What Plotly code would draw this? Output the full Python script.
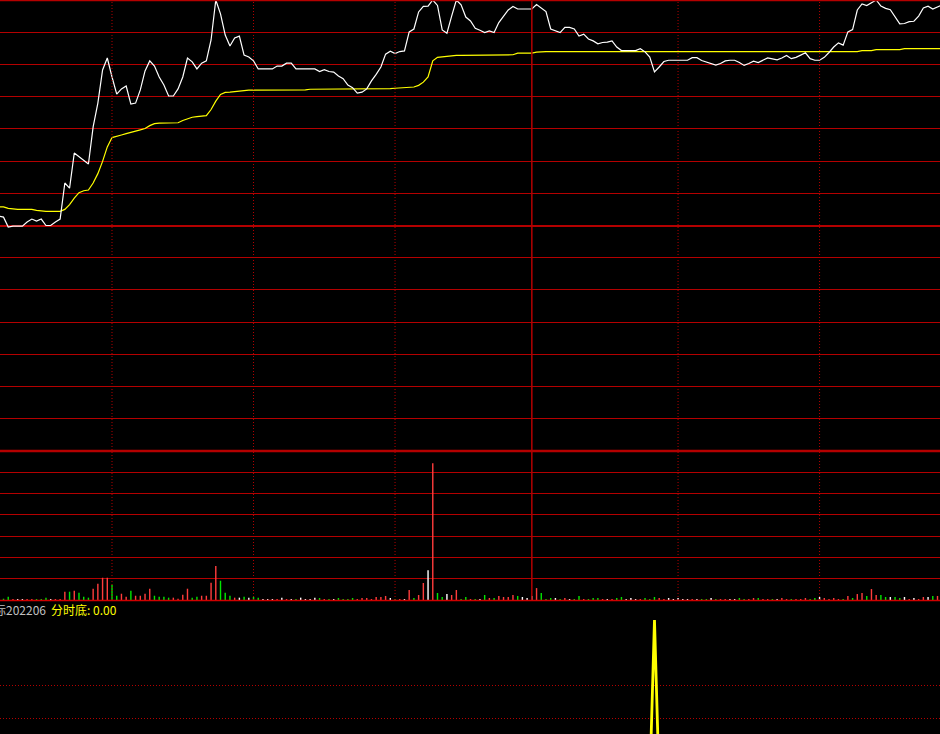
import plotly.graph_objects as go

# ---------------- data ----------------
# minute index of the trading day (0 = open); visible window is a crop
minutes = list(range(6, 207))

price_pct = [
    0.29, 0.26, -0.05, -0.02, -0.02, -0.02, 0.11, 0.20, 0.14, 0.20,      # 6-15
    0.00, 0.00, 0.11, 0.20, 1.32, 1.16, 2.25, 2.13, 2.00, 1.91,           # 16-25
    3.06, 3.80, 4.83, 5.20, 4.61, 4.08, 4.24, 4.33, 3.77, 3.80,           # 26-35
    4.21, 4.80, 5.11, 4.95, 4.61, 4.36, 4.02, 4.02, 4.24, 4.61,           # 36-45
    5.20, 5.08, 4.86, 5.04, 5.11, 5.76, 7.00, 6.57, 5.91, 5.57,           # 46-55
    5.82, 5.88, 5.29, 5.23, 5.11, 4.86, 4.86, 4.86, 4.86, 4.95,           # 56-65
    4.95, 5.04, 5.04, 4.86, 4.86, 4.86, 4.86, 4.86, 4.78, 4.84,           # 66-75
    4.78, 4.76, 4.64, 4.56, 4.36, 4.28, 4.11, 4.14, 4.24, 4.49,           # 76-85
    4.69, 4.92, 5.32, 5.41, 5.34, 5.40, 5.42, 6.01, 6.10, 6.63,           # 86-95
    6.80, 6.81, 7.00, 6.83, 6.07, 5.97, 6.50, 7.00, 6.85, 6.47,           # 96-105
    6.35, 6.12, 6.06, 5.99, 6.04, 5.99, 6.30, 6.49, 6.69, 6.80,           # 106-115
    6.72, 6.72, 6.72, 6.72, 6.86, 6.75, 6.64, 6.10, 6.05, 5.99,           # 116-125
    6.15, 6.15, 6.10, 5.88, 5.94, 5.79, 5.73, 5.64, 5.68, 5.69,           # 126-135
    5.73, 5.54, 5.43, 5.43, 5.43, 5.43, 5.49, 5.39, 5.23, 4.77,           # 136-145
    4.92, 5.09, 5.13, 5.13, 5.13, 5.13, 5.13, 5.21, 5.21, 5.12,           # 146-155
    5.08, 5.04, 4.98, 5.03, 5.11, 5.13, 5.13, 5.06, 4.97, 5.03,           # 156-165
    5.10, 5.06, 5.13, 5.20, 5.17, 5.14, 5.20, 5.28, 5.18, 5.22,           # 166-175
    5.29, 5.36, 5.18, 5.13, 5.13, 5.22, 5.37, 5.54, 5.67, 5.60,           # 176-185
    6.01, 6.08, 6.69, 6.88, 6.83, 6.91, 7.00, 6.81, 6.74, 6.70,           # 186-195
    6.47, 6.26, 6.27, 6.33, 6.34, 6.50, 6.75, 6.81, 6.72, 6.78,           # 196-205
    6.85,                                                                 # 206
]

avg_pct = [
    0.58, 0.58, 0.53, 0.51, 0.50, 0.50, 0.50, 0.50, 0.47, 0.45,           # 6-15
    0.44, 0.44, 0.44, 0.44, 0.50, 0.65, 0.85, 1.02, 1.08, 1.10,           # 16-25
    1.32, 1.61, 1.99, 2.44, 2.73, 2.78, 2.81, 2.85, 2.90, 2.93,           # 26-35
    2.97, 3.01, 3.10, 3.16, 3.18, 3.18, 3.19, 3.19, 3.19, 3.26,           # 36-45
    3.32, 3.36, 3.38, 3.40, 3.41, 3.60, 3.86, 4.07, 4.13, 4.14,           # 46-55
    4.16, 4.18, 4.19, 4.20, 4.20, 4.20, 4.20, 4.20, 4.20, 4.20,           # 56-65
    4.20, 4.20, 4.20, 4.20, 4.20, 4.21, 4.23, 4.23, 4.23, 4.23,           # 66-75
    4.23, 4.23, 4.23, 4.23, 4.24, 4.24, 4.24, 4.24, 4.24, 4.24,           # 76-85
    4.24, 4.24, 4.24, 4.25, 4.26, 4.27, 4.28, 4.29, 4.30, 4.35,           # 86-95
    4.45, 4.61, 5.11, 5.22, 5.24, 5.26, 5.27, 5.28, 5.28, 5.28,           # 96-105
    5.28, 5.28, 5.28, 5.28, 5.30, 5.30, 5.30, 5.30, 5.30, 5.30,           # 106-115
    5.35, 5.35, 5.35, 5.35, 5.38, 5.40, 5.40, 5.40, 5.40, 5.40,           # 116-125
    5.40, 5.40, 5.40, 5.40, 5.40, 5.40, 5.40, 5.40, 5.40, 5.40,           # 126-135
    5.40, 5.40, 5.40, 5.40, 5.40, 5.40, 5.40, 5.40, 5.40, 5.40,           # 136-145
    5.40, 5.40, 5.40, 5.40, 5.40, 5.40, 5.40, 5.40, 5.40, 5.40,           # 146-155
    5.40, 5.40, 5.40, 5.40, 5.40, 5.40, 5.40, 5.40, 5.40, 5.40,           # 156-165
    5.40, 5.40, 5.40, 5.40, 5.40, 5.40, 5.40, 5.40, 5.40, 5.40,           # 166-175
    5.40, 5.40, 5.40, 5.40, 5.40, 5.40, 5.40, 5.40, 5.40, 5.40,           # 176-185
    5.40, 5.40, 5.40, 5.43, 5.43, 5.43, 5.46, 5.46, 5.46, 5.46,           # 186-195
    5.46, 5.46, 5.49, 5.49, 5.49, 5.49, 5.49, 5.49, 5.49, 5.49,           # 196-205
    5.49,                                                                 # 206
]

vol_minutes = list(range(7, 206))
volumes = [
    60, 155, 47, 47, 47, 47, 47, 47, 47, 110,            # 7-16
    47, 47, 47, 390, 390, 435, 340, 155, 110, 530,       # 17-26
    760, 1045, 1045, 715, 200, 295, 155, 435, 200, 200,  # 27-36
    295, 530, 200, 155, 155, 110, 110, 60, 250, 530,     # 37-46
    110, 155, 200, 200, 810, 1600, 905, 340, 200, 110,   # 47-56
    110, 155, 110, 155, 110, 47, 47, 47, 47, 110,        # 57-66
    47, 47, 47, 110, 47, 47, 110, 95, 47, 47,            # 67-76
    47, 95, 47, 47, 95, 47, 95, 95, 47, 140,             # 77-86
    140, 190, 95, 47, 47, 47, 470, 95, 235, 800,         # 87-96
    1400, 6420, 330, 140, 280, 235, 470, 47, 140, 47,    # 97-106
    47, 47, 235, 95, 95, 190, 140, 140, 235, 190,        # 107-116
    140, 95, 190, 560, 330, 47, 95, 95, 47, 95,          # 117-126
    47, 47, 190, 47, 47, 95, 95, 47, 47, 47,             # 127-136
    95, 140, 47, 95, 47, 47, 95, 47, 140, 95,            # 137-146
    47, 95, 47, 95, 47, 47, 47, 47, 47, 47,              # 147-156
    95, 47, 47, 47, 47, 47, 95, 47, 47, 95,              # 157-166
    95, 47, 47, 47, 47, 95, 47, 47, 47, 47,              # 167-176
    95, 47, 95, 140, 95, 47, 95, 47, 47, 190,            # 177-186
    95, 280, 330, 190, 515, 235, 235, 140, 140, 140,     # 187-196
    95, 140, 47, 95, 47, 140, 140, 190, 190,             # 197-205
]
# r = up (red), g = down (green), w = unchanged (white)
vol_dir = list(
    "ggrwwrrggg"  # 7-16
    "wrrrgrgggr"  # 17-26
    "rrrggrrgrr"  # 27-36
    "rrggggrrrr"  # 37-46
    "ggrrrrgggr"  # 47-56
    "wgwggwwwrw"  # 57-66
    "rwgwwwwgrg"  # 67-76
    "wggggrrrrr"  # 77-86
    "rrwgrwrgrr"  # 87-96
    "wrggwrrggr"  # 97-106
    "gwgrgrrrrg"  # 107-116
    "wwwrgggwgr"  # 117-126
    "wggrgggrwr"  # 127-136
    "ggwwwrgggr"  # 137-146
    "rwwwwwrwgg"  # 147-156
    "wgrrwwggrr"  # 157-166
    "grrgwrrgrr"  # 167-176
    "rggwrrrrgr"  # 177-186
    "grrgrrggwg"  # 187-196
    "gwrwrrwgr"   # 197-205
)

# intraday-bottom signal (分时底)
signal_x = [6, 144, 145, 146, 206]
signal_y = [0, 0, 1, 0, 0]

# ---------------- styling ----------------
W, H = 940, 734
BG = "#000000"
GRID = "#b40000"
DIR_COLORS = {"r": "#ff3c3c", "g": "#00e600", "w": "#ffffff"}


def py(px):
    return 1 - px / H


x_range = [6.254, 205.53]

fig = go.Figure()

fig.add_trace(go.Scatter(x=minutes, y=avg_pct, mode="lines",
                         line=dict(color="#ffff00", width=1.2),
                         xaxis="x", yaxis="y", hoverinfo="skip"))
fig.add_trace(go.Scatter(x=minutes, y=price_pct, mode="lines",
                         line=dict(color="#ffffff", width=1.2),
                         xaxis="x", yaxis="y", hoverinfo="skip"))

fig.add_trace(go.Bar(x=vol_minutes, y=volumes,
                     marker=dict(color=[DIR_COLORS[c] for c in vol_dir], line=dict(width=0)),
                     width=0.3, xaxis="x2", yaxis="y2", hoverinfo="skip"))

fig.add_trace(go.Scatter(x=signal_x, y=signal_y, mode="lines",
                         line=dict(color="#ffff00", width=2.8),
                         xaxis="x3", yaxis="y3", hoverinfo="skip"))

common_x = dict(range=x_range, showgrid=False, zeroline=False, showticklabels=False,
                showline=False, ticks="", fixedrange=True)

fig.update_layout(
    width=W, height=H,
    margin=dict(l=0, r=0, t=0, b=0),
    paper_bgcolor=BG, plot_bgcolor=BG,
    showlegend=False,
    hovermode=False,
    xaxis=dict(domain=[0, 1], anchor="y", **common_x),
    xaxis2=dict(domain=[0, 1], anchor="y2", matches="x", **common_x),
    xaxis3=dict(domain=[0, 1], anchor="y3", matches="x", **common_x),
    yaxis=dict(domain=[py(451), 1], range=[-7, 7],
               tickvals=[-6, -5, -4, -3, -2, -1, 1, 2, 3, 4, 5, 6],
               showgrid=True, gridcolor=GRID, gridwidth=1,
               zeroline=True, zerolinecolor=GRID, zerolinewidth=2,
               showticklabels=False, ticks="", showline=False, fixedrange=True),
    yaxis2=dict(domain=[py(600), py(451)], range=[0, 7000],
                tickvals=[1000, 2000, 3000, 4000, 5000, 6000],
                showgrid=True, gridcolor=GRID, gridwidth=1,
                zeroline=False, showticklabels=False, ticks="", showline=False,
                fixedrange=True),
    yaxis3=dict(domain=[0, py(600)], range=[0.3049, 1.122],
                tickvals=[0.4, 0.6],
                showgrid=True, gridcolor=GRID, gridwidth=1, griddash="1px,2px",
                zeroline=False, showticklabels=False, ticks="", showline=False,
                fixedrange=True),
)

shapes = []
# panel borders
shapes.append(dict(type="line", xref="paper", yref="paper", x0=0, x1=1,
                   y0=py(0.5), y1=py(0.5), line=dict(color=GRID, width=1.5)))
shapes.append(dict(type="line", xref="paper", yref="paper", x0=0, x1=1,
                   y0=py(451), y1=py(451), line=dict(color=GRID, width=2.5)))
shapes.append(dict(type="line", xref="paper", yref="paper", x0=0, x1=1,
                   y0=py(600.5), y1=py(600.5), line=dict(color="#d00000", width=1.5)))
# half-hour separators
for m in [30, 60, 90, 150, 180]:
    shapes.append(dict(type="line", xref="x", yref="paper", x0=m, x1=m,
                       y0=py(600), y1=1, line=dict(color=GRID, width=1, dash="1px,2px")))
# midday separator
shapes.append(dict(type="line", xref="x", yref="paper", x0=119.0, x1=119.0,
                   y0=py(600), y1=1, line=dict(color=GRID, width=1.5)))
fig.update_layout(shapes=shapes)

fig.add_annotation(xref="paper", yref="paper", x=47.5 / W, y=py(609.5),
                   xanchor="right", yanchor="middle", showarrow=False,
                   text="际202206",
                   font=dict(family="Noto Sans CJK SC", size=12, color="#c0c0c0"))
fig.add_annotation(xref="paper", yref="paper", x=48.5 / W, y=py(609.5),
                   xanchor="left", yanchor="middle", showarrow=False,
                   text="分时底: 0.00",
                   font=dict(family="Noto Sans CJK SC", size=12, color="#ffff00"))

fig.write_html("out.html",
               config={"displayModeBar": False, "staticPlot": True},
               post_script="document.body.style.margin='0';document.body.style.background='#000';")
